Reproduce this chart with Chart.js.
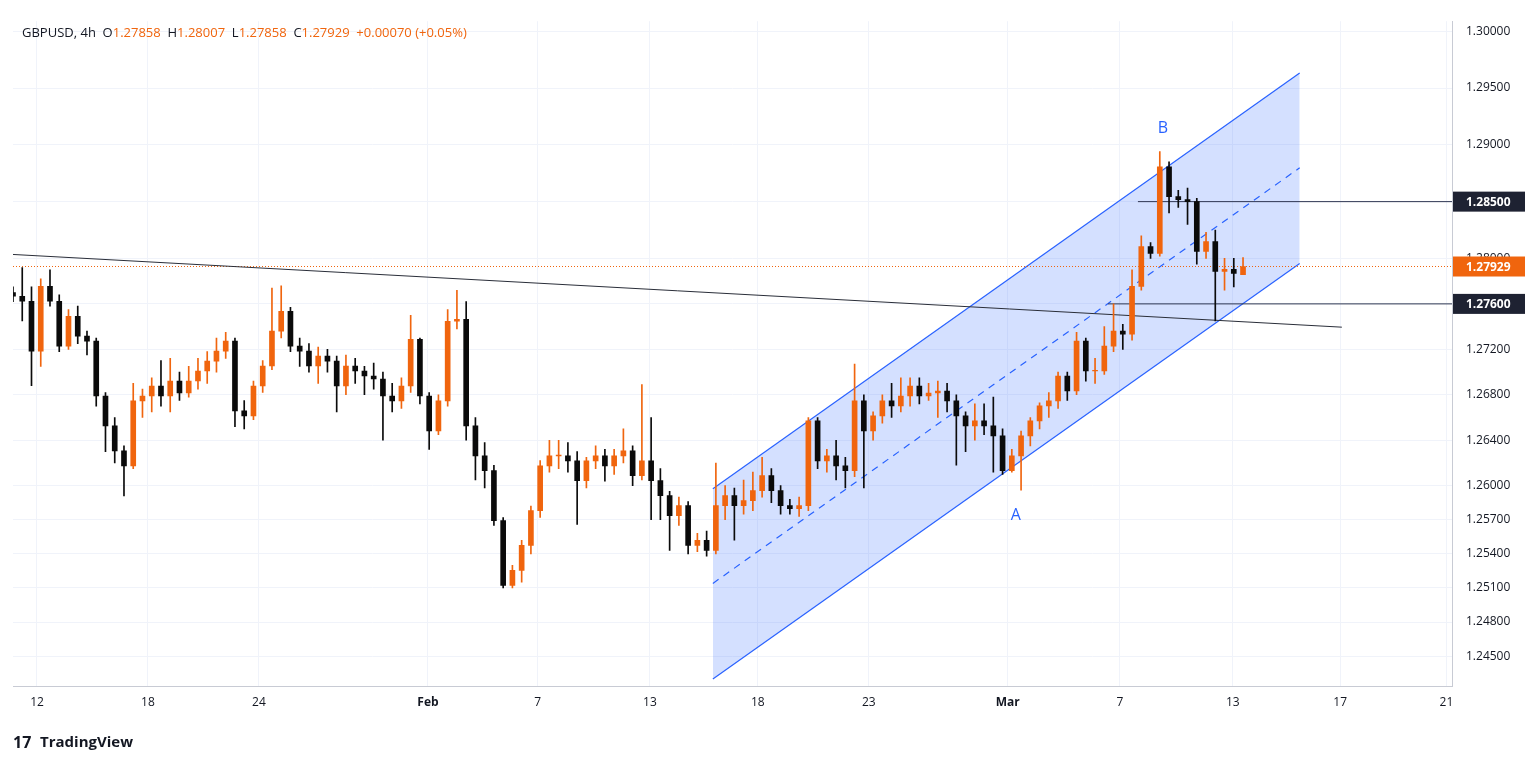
<!DOCTYPE html>
<html>
<head>
<meta charset="utf-8">
<script src="https://cdn.jsdelivr.net/npm/chart.js@4"></script>
<style>
  html, body { margin: 0; padding: 0; background: #fff; }
  #wrap { width: 1538px; height: 764px; }
</style>
</head>
<body>
<div id="wrap"><canvas id="c" width="1538" height="764"></canvas></div>
<script>
const opens = [1.27700,1.27667,1.27623,1.27184,1.27754,1.27623,1.27228,1.27491,1.27316,1.27272,
  1.26789,1.26526,1.26307,1.26175,1.26746,1.26789,1.26877,1.26789,1.26921,1.26816,
  1.26921,1.27009,1.27096,1.27184,1.27272,1.26658,1.26614,1.26877,1.27053,1.27360,
  1.27535,1.27228,1.27184,1.27053,1.27140,1.27096,1.26877,1.27053,1.27009,1.26965,
  1.26939,1.26789,1.26746,1.26877,1.27289,1.26789,1.26482,1.26746,1.27447,1.27465,
  1.26526,1.26263,1.26132,1.25693,1.25123,1.25254,1.25474,1.25781,1.26175,1.26263,
  1.26263,1.26219,1.26044,1.26219,1.26263,1.26175,1.26263,1.26307,1.26088,1.26219,
  1.26044,1.25912,1.25737,1.25825,1.25474,1.25518,1.25430,1.25825,1.25912,1.25825,
  1.25868,1.25956,1.26088,1.25956,1.25825,1.25798,1.25825,1.26570,1.26219,1.26263,
  1.26175,1.26132,1.26746,1.26482,1.26614,1.26746,1.26702,1.26789,1.26877,1.26789,
  1.26816,1.26833,1.26746,1.26614,1.26526,1.26570,1.26526,1.26439,1.26132,1.26263,
  1.26439,1.26570,1.26702,1.26746,1.26965,1.26834,1.27272,1.27009,1.27009,1.27228,
  1.27360,1.27333,1.27754,1.28105,1.28044,1.28807,1.28544,1.28518,1.28500,1.28061,
  1.28149,1.27886,1.27904,1.27858];
const highs = [1.2775,1.2792,1.2775,1.2782,1.2790,1.2768,1.2755,1.2758,1.2736,1.2730,
  1.2682,1.2660,1.2635,1.2690,1.2685,1.2695,1.2710,1.2712,1.2700,1.2705,
  1.2712,1.2718,1.2730,1.2735,1.2730,1.2675,1.2692,1.2710,1.2774,1.2776,
  1.2757,1.2730,1.2725,1.2722,1.2720,1.2714,1.2715,1.2712,1.2705,1.2708,
  1.2700,1.2690,1.2695,1.2750,1.2730,1.2682,1.2680,1.2755,1.2772,1.2762,
  1.2660,1.2638,1.2618,1.2572,1.2530,1.2552,1.2582,1.2622,1.2640,1.2640,
  1.2638,1.2630,1.2625,1.2635,1.2632,1.2632,1.2650,1.2635,1.2689,1.2660,
  1.2615,1.2595,1.2590,1.2586,1.2558,1.2560,1.2620,1.2600,1.2598,1.2605,
  1.2612,1.2625,1.2615,1.2600,1.2588,1.2590,1.2660,1.2660,1.2632,1.2640,
  1.2625,1.2707,1.2680,1.2665,1.2680,1.2690,1.2695,1.2695,1.2695,1.2690,
  1.2692,1.2690,1.2680,1.2665,1.2672,1.2672,1.2678,1.2650,1.2632,1.2648,
  1.2660,1.2673,1.2682,1.2700,1.2700,1.2735,1.2730,1.2712,1.2740,1.2760,
  1.2742,1.2790,1.2820,1.2814,1.2894,1.2885,1.2860,1.2862,1.2853,1.2823,
  1.2825,1.2800,1.2800,1.28007];
const lows = [1.2762,1.2745,1.2688,1.2705,1.2758,1.2718,1.2720,1.2725,1.2715,1.2670,
  1.2630,1.2620,1.2591,1.2615,1.2660,1.2665,1.2670,1.2665,1.2675,1.2678,
  1.2685,1.2690,1.2700,1.2712,1.2652,1.2650,1.2658,1.2682,1.2702,1.2730,
  1.2718,1.2705,1.2700,1.2690,1.2700,1.2665,1.2680,1.2690,1.2680,1.2685,
  1.2640,1.2665,1.2668,1.2682,1.2672,1.2632,1.2645,1.2670,1.2738,1.2640,
  1.2605,1.2598,1.2565,1.2510,1.2510,1.2515,1.2540,1.2572,1.2612,1.2615,
  1.2612,1.2566,1.2598,1.2615,1.2604,1.2610,1.2620,1.2600,1.2605,1.2570,
  1.2570,1.2543,1.2565,1.2540,1.2542,1.2538,1.2540,1.2570,1.2552,1.2575,
  1.2578,1.2590,1.2585,1.2575,1.2575,1.2573,1.2578,1.2615,1.2612,1.2605,
  1.2598,1.2608,1.2598,1.2640,1.2655,1.2660,1.2665,1.2670,1.2672,1.2675,
  1.2660,1.2665,1.2618,1.2630,1.2640,1.2645,1.2612,1.2610,1.2612,1.2596,
  1.2635,1.2650,1.2660,1.2668,1.2675,1.2680,1.2692,1.2690,1.2698,1.2718,
  1.2720,1.2728,1.2772,1.2800,1.2802,1.2840,1.2845,1.2830,1.2795,1.2800,
  1.2745,1.2772,1.2775,1.27858];
const closes = [1.27667,1.27623,1.27184,1.27754,1.27623,1.27228,1.27491,1.27316,1.27272,1.26789,
  1.26526,1.26307,1.26175,1.26746,1.26789,1.26877,1.26789,1.26921,1.26816,1.26921,
  1.27009,1.27096,1.27184,1.27272,1.26658,1.26614,1.26877,1.27053,1.27360,1.27535,
  1.27228,1.27184,1.27053,1.27140,1.27096,1.26877,1.27053,1.27009,1.26965,1.26939,
  1.26789,1.26746,1.26877,1.27289,1.26789,1.26482,1.26746,1.27447,1.27465,1.26526,
  1.26263,1.26132,1.25693,1.25123,1.25254,1.25474,1.25781,1.26175,1.26263,1.26263,
  1.26219,1.26044,1.26219,1.26263,1.26175,1.26263,1.26307,1.26088,1.26219,1.26044,
  1.25912,1.25737,1.25825,1.25474,1.25518,1.25430,1.25825,1.25912,1.25825,1.25868,
  1.25956,1.26088,1.25956,1.25825,1.25798,1.25825,1.26570,1.26219,1.26263,1.26175,
  1.26132,1.26746,1.26482,1.26614,1.26746,1.26702,1.26789,1.26877,1.26789,1.26816,
  1.26833,1.26746,1.26614,1.26526,1.26570,1.26526,1.26439,1.26132,1.26263,1.26439,
  1.26570,1.26702,1.26746,1.26965,1.26834,1.27272,1.27009,1.27009,1.27228,1.27360,
  1.27333,1.27754,1.28105,1.28044,1.28807,1.28544,1.28518,1.28500,1.28061,1.28149,
  1.27886,1.27904,1.27868,1.27929];

// x axis in trading days, 0 = Jan 12
const firstCandle = -0.865;
const candlesPerDay = 3;
const xTickVals = [0, 4, 8, 14.09, 18.05, 22.09, 25.98, 29.98, 34.99, 39.03, 43.1, 46.97, 50.8];
const xTickLabels = ['12', '18', '24', 'Feb', '7', '13', '18', '23', 'Mar', '7', '13', '17', '21'];
const yTickVals = [1.245, 1.248, 1.251, 1.254, 1.257, 1.260, 1.264, 1.268, 1.272, 1.276, 1.280, 1.285, 1.290, 1.295, 1.300];

// drawings
const channelX = [24.36, 45.51];
const channelUpper = [1.25974, 1.29632];
const channelMid = [1.25140, 1.28798];
const channelLower = [1.24298, 1.27956];
const trendX = [-0.865, 47.03];
const trendY = [1.28035, 1.27395];
const level1 = { from: 39.68, price: 1.285 };
const level2 = { from: 38.6, price: 1.276 };
const lastPrice = 1.27929;

const UP = '#f0650e';
const DOWN = '#0b0b0b';
const BLUE = '#2962ff';
const X_MIN = -0.865, X_MAX = 51.0;

const xs = closes.map((_, i) => firstCandle + i / candlesPerDay);
const col = i => closes[i] >= opens[i] ? UP : DOWN;

const wicks = xs.map((x, i) => ({ x, y: [lows[i], highs[i]] }));
const bodies = xs.map((x, i) => {
  let a = opens[i], b = closes[i];
  if (Math.abs(a - b) < 0.00006) b = a + 0.00006;
  return { x, y: [a, b] };
});
const line = (xa, ya) => xa.map((x, i) => ({ x, y: ya[i] }));

const overlay = {
  id: 'overlay',
  afterDraw(chart) {
    const { ctx, scales: { x, y }, chartArea } = chart;
    ctx.save();
    // A / B labels
    ctx.fillStyle = BLUE;
    ctx.font = '16px "Open Sans", sans-serif';
    ctx.textAlign = 'center';
    ctx.textBaseline = 'middle';
    ctx.fillText('A', x.getPixelForValue(35.28), y.getPixelForValue(1.25737));
    ctx.fillText('B', x.getPixelForValue(40.58), y.getPixelForValue(1.29140));

    // axis price labels
    const tag = (price, bg) => {
      const py = y.getPixelForValue(price);
      ctx.fillStyle = bg;
      ctx.fillRect(chartArea.right + 1, py - 10, 72, 20);
      ctx.fillStyle = '#fff';
      ctx.font = 'bold 12px "Open Sans", sans-serif';
      ctx.textAlign = 'left';
      ctx.fillText(price.toFixed(5), chartArea.right + 14, py + 1);
    };
    tag(level1.price, '#1e2232');
    tag(level2.price, '#1e2232');
    tag(lastPrice, UP);

    // header
    ctx.textAlign = 'left';
    ctx.font = '13px "Open Sans", sans-serif';
    let cx = 22;
    const part = (t, c) => { ctx.fillStyle = c; ctx.fillText(t, cx, 33); cx += ctx.measureText(t).width; };
    part('GBPUSD, 4h  ', '#131722');
    part('O', '#131722'); part('1.27858  ', UP);
    part('H', '#131722'); part('1.28007  ', UP);
    part('L', '#131722'); part('1.27858  ', UP);
    part('C', '#131722'); part('1.27929  +0.00070 (+0.05%)', UP);

    // logo
    ctx.fillStyle = '#131722';
    ctx.font = 'bold 15px "Open Sans", sans-serif';
    ctx.fillText('TradingView', 40, 743);
    ctx.font = 'bold 16px "Open Sans", sans-serif';
    ctx.fillText('17', 13, 743);
    ctx.restore();
  }
};

new Chart(document.getElementById('c'), {
  data: {
    datasets: [
      { type: 'bar', data: wicks, barThickness: 1, grouped: false, order: 0,
        backgroundColor: ctx => col(ctx.dataIndex) },
      { type: 'bar', data: bodies, barThickness: 5, grouped: false, order: 0,
        backgroundColor: ctx => col(ctx.dataIndex) },
      { type: 'line', data: line(channelX, channelUpper), borderColor: BLUE, borderWidth: 1.2, pointRadius: 0, order: 2 },
      { type: 'line', data: line(channelX, channelLower), borderColor: BLUE, borderWidth: 1.2, pointRadius: 0, order: 2,
        fill: { target: 2 }, backgroundColor: 'rgba(41,98,255,0.2)' },
      { type: 'line', data: line(channelX, channelMid), borderColor: BLUE, borderWidth: 1.2, borderDash: [7, 6], pointRadius: 0, order: 2 },
      { type: 'line', data: line(trendX, trendY), borderColor: '#2a2e39', borderWidth: 1, pointRadius: 0, order: 1 },
      { type: 'line', data: [{ x: level1.from, y: level1.price }, { x: X_MAX, y: level1.price }], borderColor: '#2e3550', borderWidth: 1, pointRadius: 0, order: 1 },
      { type: 'line', data: [{ x: level2.from, y: level2.price }, { x: X_MAX, y: level2.price }], borderColor: '#2e3550', borderWidth: 1, pointRadius: 0, order: 1 },
      { type: 'line', data: [{ x: X_MIN, y: lastPrice }, { x: X_MAX, y: lastPrice }], borderColor: UP, borderWidth: 1, borderDash: [1, 2], pointRadius: 0, order: 1 }
    ]
  },
  options: {
    responsive: false,
    animation: false,
    layout: { padding: { left: 13, top: 7, right: 0, bottom: 50 } },
    plugins: { legend: { display: false }, tooltip: { enabled: false } },
    scales: {
      x: {
        type: 'linear', min: X_MIN, max: X_MAX, offset: false,
        afterBuildTicks: s => { s.ticks = xTickVals.map(v => ({ value: v })); },
        afterFit: s => { s.height = 28; },
        grid: { color: '#f0f3fa', drawTicks: false, offset: false },
        border: { color: '#c8cbd4' },
        ticks: {
          autoSkip: false, maxRotation: 0, padding: 9, color: '#131722',
          font: c => ({ family: '"Open Sans", sans-serif', size: 12,
            weight: (c.index === 3 || c.index === 8) ? 'bold' : 'normal' }),
          callback: (v, i) => xTickLabels[i]
        }
      },
      y: {
        position: 'right', min: 1.24237, max: 1.30088,
        afterBuildTicks: s => { s.ticks = yTickVals.map(v => ({ value: v })); },
        afterFit: s => { s.width = 86; },
        grid: { color: '#f0f3fa', drawTicks: false },
        border: { color: '#c8cbd4' },
        ticks: {
          padding: 14, color: '#131722',
          font: { family: '"Open Sans", sans-serif', size: 12 },
          callback: v => v.toFixed(5)
        }
      }
    }
  },
  plugins: [overlay]
});
</script>
</body>
</html>
